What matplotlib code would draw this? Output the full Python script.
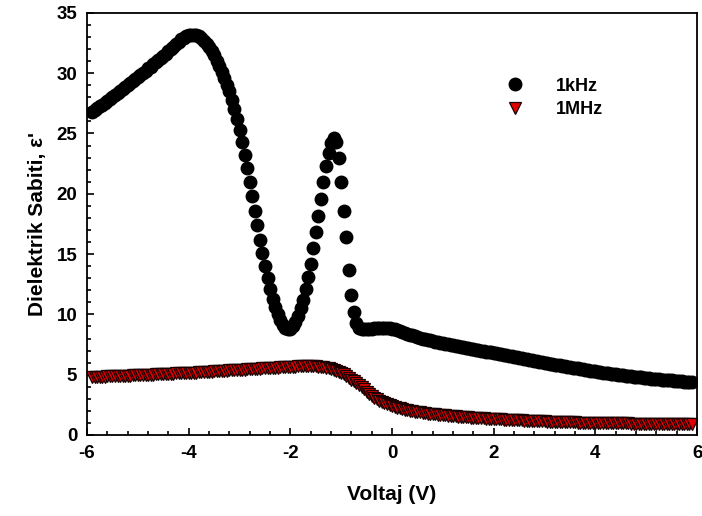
import numpy as np
import matplotlib
matplotlib.use('Agg')
import matplotlib.pyplot as plt
from matplotlib.ticker import MultipleLocator

plt.rcParams['font.family'] = ['Liberation Sans', 'DejaVu Sans']
plt.rcParams['axes.unicode_minus'] = False

# voltage sweep, -5.9 V .. 5.9 V in 0.05 V steps
voltaj = np.round(np.arange(-5.9, 5.901, 0.05), 2)

# 1 kHz, one row per volt starting at -5.9, -4.9, ... , 5.1
eps_1khz = [
    26.8, 26.95, 27.1, 27.25, 27.4, 27.55, 27.7, 27.85, 28.0, 28.2, 28.35, 28.5, 28.7, 28.85, 29.0, 29.2, 29.35, 29.5, 29.7, 29.85,
    30.05, 30.2, 30.4, 30.55, 30.75, 30.9, 31.1, 31.25, 31.45, 31.6, 31.8, 32.0, 32.2, 32.4, 32.6, 32.8, 32.95, 33.05, 33.15, 33.2,
    33.2, 33.15, 33.05, 32.9, 32.7, 32.45, 32.2, 31.85, 31.5, 31.05, 30.6, 30.1, 29.6, 29.05, 28.5, 27.8, 27.0, 26.2, 25.3, 24.3,
    23.2, 22.1, 21.0, 19.8, 18.6, 17.4, 16.2, 15.1, 14.0, 13.0, 12.1, 11.3, 10.6, 10.0, 9.5, 9.1, 8.9, 8.8, 8.8, 9.0,
    9.4, 9.9, 10.5, 11.2, 12.1, 13.1, 14.2, 15.5, 16.8, 18.2, 19.6, 21.0, 22.3, 23.4, 24.2, 24.6, 24.3, 23.0, 21.0, 18.6,
    16.4, 13.7, 11.6, 10.2, 9.3, 8.9, 8.8, 8.75, 8.75, 8.8, 8.8, 8.85, 8.85, 8.9, 8.9, 8.9, 8.85, 8.85, 8.8, 8.75,
    8.7, 8.62, 8.55, 8.47, 8.4, 8.32, 8.25, 8.18, 8.1, 8.05, 8.0, 7.95, 7.9, 7.85, 7.8, 7.75, 7.7, 7.65, 7.6, 7.56,
    7.52, 7.48, 7.44, 7.4, 7.36, 7.32, 7.28, 7.24, 7.2, 7.16, 7.12, 7.08, 7.04, 7.0, 6.96, 6.92, 6.88, 6.84, 6.8, 6.76,
    6.72, 6.68, 6.64, 6.6, 6.56, 6.52, 6.48, 6.44, 6.4, 6.36, 6.32, 6.28, 6.24, 6.2, 6.16, 6.12, 6.08, 6.04, 6.0, 5.96,
    5.92, 5.88, 5.84, 5.81, 5.77, 5.73, 5.69, 5.66, 5.62, 5.59, 5.55, 5.52, 5.48, 5.45, 5.41, 5.38, 5.34, 5.31, 5.27, 5.24,
    5.21, 5.18, 5.15, 5.12, 5.09, 5.06, 5.03, 5.0, 4.97, 4.94, 4.92, 4.89, 4.87, 4.84, 4.82, 4.79, 4.77, 4.74, 4.72, 4.70,
    4.68, 4.66, 4.64, 4.62, 4.6, 4.58, 4.56, 4.54, 4.52, 4.5, 4.48, 4.46, 4.44, 4.42, 4.4, 4.38, 4.36,
]

# 1 MHz, same layout
eps_1mhz = [
    4.80, 4.81, 4.82, 4.82, 4.83, 4.84, 4.85, 4.86, 4.87, 4.88, 4.88, 4.89, 4.90, 4.91, 4.92, 4.93, 4.94, 4.94, 4.95, 4.96,
    4.97, 4.98, 4.99, 5.00, 5.01, 5.02, 5.03, 5.04, 5.05, 5.06, 5.07, 5.08, 5.09, 5.10, 5.11, 5.12, 5.13, 5.14, 5.15, 5.16,
    5.17, 5.18, 5.20, 5.21, 5.22, 5.23, 5.25, 5.26, 5.27, 5.28, 5.30, 5.31, 5.32, 5.33, 5.35, 5.36, 5.37, 5.38, 5.40, 5.41,
    5.43, 5.44, 5.45, 5.47, 5.48, 5.49, 5.50, 5.52, 5.53, 5.54, 5.55, 5.57, 5.58, 5.59, 5.60, 5.61, 5.62, 5.63, 5.65, 5.66,
    5.67, 5.68, 5.69, 5.69, 5.70, 5.70, 5.70, 5.69, 5.68, 5.67, 5.65, 5.62, 5.58, 5.53, 5.47, 5.41, 5.34, 5.25, 5.15, 5.03,
    4.90, 4.75, 4.60, 4.45, 4.30, 4.12, 3.95, 3.78, 3.60, 3.40, 3.22, 3.08, 2.95, 2.85, 2.75, 2.65, 2.56, 2.48, 2.40, 2.33,
    2.26, 2.20, 2.15, 2.10, 2.05, 2.01, 1.97, 1.93, 1.90, 1.87, 1.84, 1.81, 1.78, 1.76, 1.73, 1.71, 1.69, 1.67, 1.65, 1.63,
    1.61, 1.59, 1.57, 1.55, 1.53, 1.52, 1.50, 1.48, 1.47, 1.45, 1.44, 1.42, 1.41, 1.39, 1.38, 1.36, 1.35, 1.33, 1.32, 1.31,
    1.30, 1.29, 1.28, 1.27, 1.26, 1.25, 1.24, 1.23, 1.22, 1.21, 1.20, 1.19, 1.18, 1.17, 1.16, 1.15, 1.14, 1.13, 1.12, 1.11,
    1.10, 1.10, 1.09, 1.08, 1.08, 1.07, 1.06, 1.06, 1.05, 1.04, 1.04, 1.03, 1.03, 1.02, 1.02, 1.01, 1.01, 1.00, 1.00, 0.99,
    0.99, 0.99, 0.98, 0.98, 0.98, 0.97, 0.97, 0.97, 0.96, 0.96, 0.96, 0.96, 0.95, 0.95, 0.95, 0.95, 0.94, 0.94, 0.94, 0.94,
    0.93, 0.93, 0.93, 0.93, 0.92, 0.92, 0.92, 0.92, 0.92, 0.91, 0.91, 0.91, 0.91, 0.91, 0.90, 0.90, 0.90,
]

fig = plt.figure(figsize=(7.02, 5.16), dpi=100)
ax = fig.add_axes([0.124, 0.157, 0.869, 0.818])

ax.plot(voltaj, eps_1khz, 'o', color='black', ms=9, mec='black', label='1kHz')
ax.plot(voltaj, eps_1mhz, 'v', color='#e00000', ms=9, mec='#1a0000', mew=0.9, label='1MHz')

ax.set_xlim(-6, 6)
ax.set_ylim(0, 35)
ax.xaxis.set_major_locator(MultipleLocator(2))
ax.xaxis.set_minor_locator(MultipleLocator(0.4))
ax.yaxis.set_major_locator(MultipleLocator(5))
ax.yaxis.set_minor_locator(MultipleLocator(1))
ax.tick_params(which='both', direction='in', top=False, right=False, width=1.2)
ax.tick_params(which='major', length=5, labelsize=13.5, pad=7)
ax.tick_params(which='minor', length=3)
for lbl in ax.get_xticklabels() + ax.get_yticklabels():
    lbl.set_fontweight('bold')
for s in ax.spines.values():
    s.set_linewidth(1.3)

ax.set_xlabel('Voltaj (V)', fontsize=15, fontweight='bold', labelpad=17)
ax.set_ylabel("Dielektrik Sabiti, ε'", fontsize=15, fontweight='bold', labelpad=7)

ax.legend(loc='upper left', bbox_to_anchor=(0.645, 0.885), frameon=False,
          prop={'weight': 'bold', 'size': 13}, handletextpad=1.3, labelspacing=0.35)

fig.savefig('out.png', dpi=100)
